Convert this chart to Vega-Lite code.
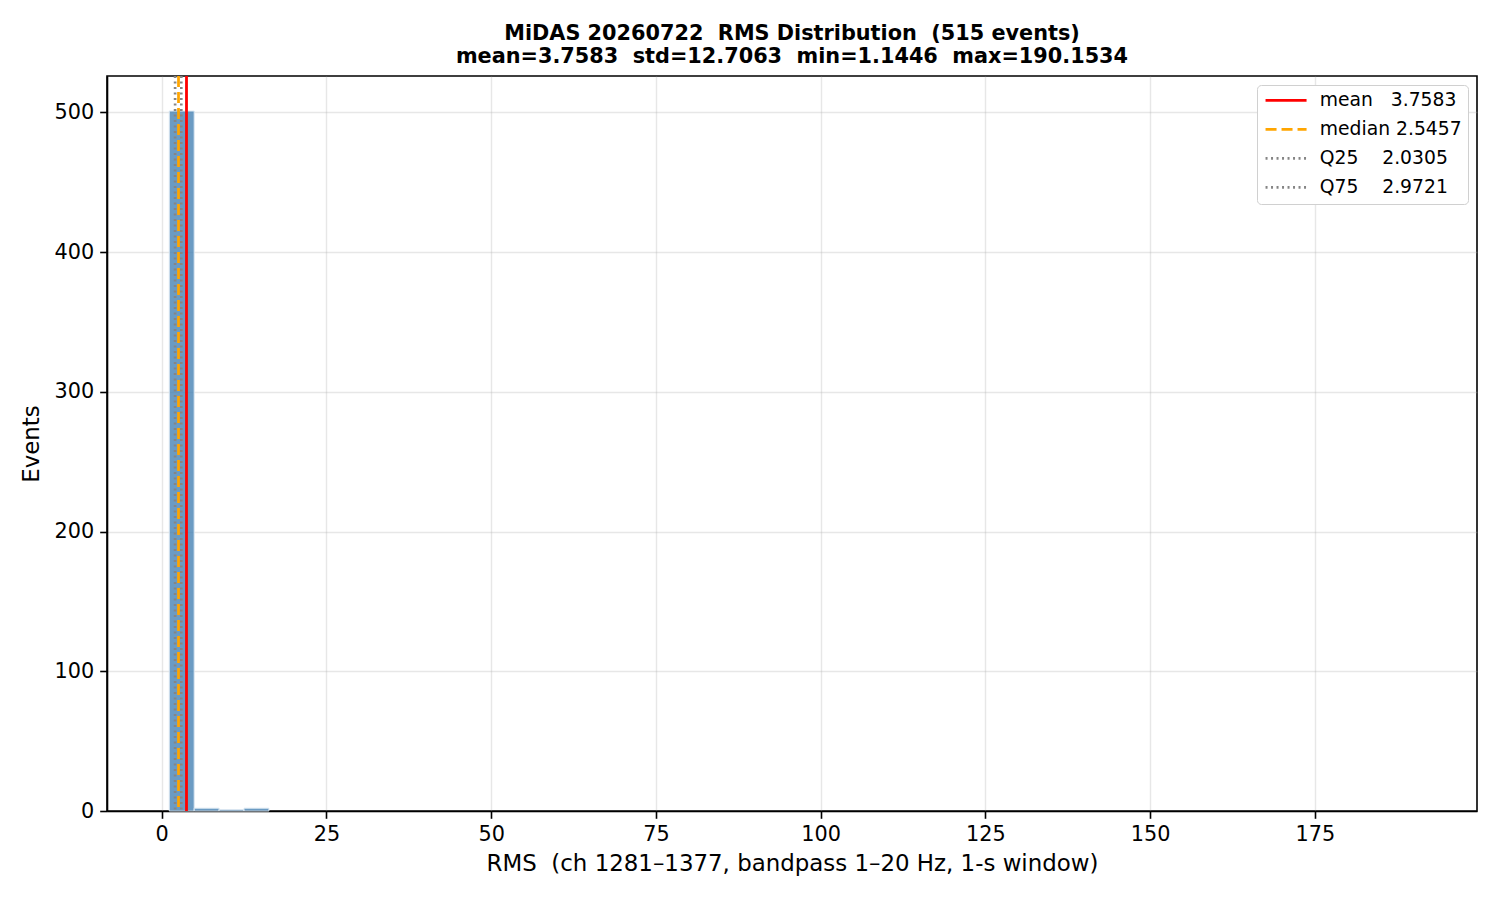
{
  "$schema": "https://vega.github.io/schema/vega-lite/v6.json",
  "width": 1370,
  "height": 735,
  "autosize": "none",
  "padding": {"left": 107, "top": 76, "right": 23, "bottom": 89},
  "background": "white",
  "title": {
    "text": ["MiDAS 20260722\u00a0 RMS Distribution\u00a0 (515 events)", "mean=3.7583\u00a0 std=12.7063\u00a0 min=1.1446\u00a0 max=190.1534"],
    "font": "DejaVu Sans",
    "fontSize": 20.8,
    "fontWeight": "bold",
    "color": "black",
    "anchor": "middle",
    "lineHeight": 23,
    "offset": 7
  },
  "config": {
    "view": {"stroke": "black", "strokeWidth": 1.6},
    "axis": {
      "labelFont": "DejaVu Sans",
      "labelFontSize": 20.8,
      "labelColor": "black",
      "titleFont": "DejaVu Sans",
      "titleFontSize": 22.9,
      "titleFontWeight": "normal",
      "titleColor": "black",
      "domainColor": "black",
      "domainWidth": 1.6,
      "tickColor": "black",
      "tickWidth": 1.6,
      "tickSize": 7.3,
      "labelPadding": 6,
      "gridColor": "#b0b0b0",
      "gridOpacity": 0.3,
      "gridWidth": 1.4
    },
    "legend": {
      "labelFont": "DejaVu Sans",
      "labelFontSize": 18.75,
      "labelColor": "black"
    }
  },
  "datasets": {
    "hist": [
      {"bin_start": 1.1446, "bin_end": 4.9248, "count": 501},
      {"bin_start": 4.9248, "bin_end": 8.7050, "count": 2},
      {"bin_start": 8.7050, "bin_end": 12.4851, "count": 1},
      {"bin_start": 12.4851, "bin_end": 16.2653, "count": 2}
    ],
    "stats": [
      {"label": "mean\u00a0\u00a0\u00a03.7583", "value": 3.7583},
      {"label": "median\u00a02.5457", "value": 2.5457},
      {"label": "Q25\u00a0\u00a0\u00a0\u00a02.0305", "value": 2.0305},
      {"label": "Q75\u00a0\u00a0\u00a0\u00a02.9721", "value": 2.9721}
    ]
  },
  "layer": [
    {
      "data": {"name": "hist"},
      "mark": {"type": "rect", "color": "#4682b4", "fillOpacity": 0.8, "stroke": "#dce8f2", "strokeWidth": 1},
      "encoding": {
        "x": {
          "field": "bin_start", "type": "quantitative",
          "scale": {"domain": [-8.3059, 199.6038], "nice": false, "zero": false},
          "axis": {"values": [0, 25, 50, 75, 100, 125, 150, 175], "title": "RMS\u00a0 (ch 1281–1377, bandpass 1–20 Hz, 1-s window)", "titlePadding": 8, "grid": true}
        },
        "x2": {"field": "bin_end"},
        "y": {
          "field": "count", "type": "quantitative",
          "scale": {"domain": [0, 526.05], "nice": false},
          "axis": {"values": [0, 100, 200, 300, 400, 500], "title": "Events", "titlePadding": 11, "grid": true}
        },
        "y2": {"datum": 0}
      }
    },
    {
      "data": {"name": "stats"},
      "mark": {"type": "rule"},
      "encoding": {
        "x": {"field": "value", "type": "quantitative"},
        "color": {
          "field": "label", "type": "nominal",
          "scale": {
            "domain": ["mean\u00a0\u00a0\u00a03.7583", "median\u00a02.5457", "Q25\u00a0\u00a0\u00a0\u00a02.0305", "Q75\u00a0\u00a0\u00a0\u00a02.9721"],
            "range": ["#ff0000", "#ffa500", "#858585", "#858585"]
          },
          "legend": {
            "title": null,
            "orient": "top-right",
            "offset": 9,
            "fillColor": "white",
            "strokeColor": "#d0d0d0",
            "cornerRadius": 4,
            "padding": 6,
            "rowPadding": 9,
            "symbolType": "M-1,0H5",
            "symbolSize": 187,
            "symbolStrokeWidth": 2.5,
            "labelOffset": 38
          }
        },
        "strokeDash": {
          "field": "label", "type": "nominal",
          "scale": {
            "domain": ["mean\u00a0\u00a0\u00a03.7583", "median\u00a02.5457", "Q25\u00a0\u00a0\u00a0\u00a02.0305", "Q75\u00a0\u00a0\u00a0\u00a02.9721"],
            "range": [[1, 0], [11, 5], [2, 3.5], [2, 3.5]]
          }
        },
        "strokeWidth": {
          "field": "label", "type": "ordinal",
          "scale": {
            "domain": ["mean\u00a0\u00a0\u00a03.7583", "median\u00a02.5457", "Q25\u00a0\u00a0\u00a0\u00a02.0305", "Q75\u00a0\u00a0\u00a0\u00a02.9721"],
            "range": [2.8, 2.6, 1.8, 1.8]
          }
        }
      }
    }
  ]
}
